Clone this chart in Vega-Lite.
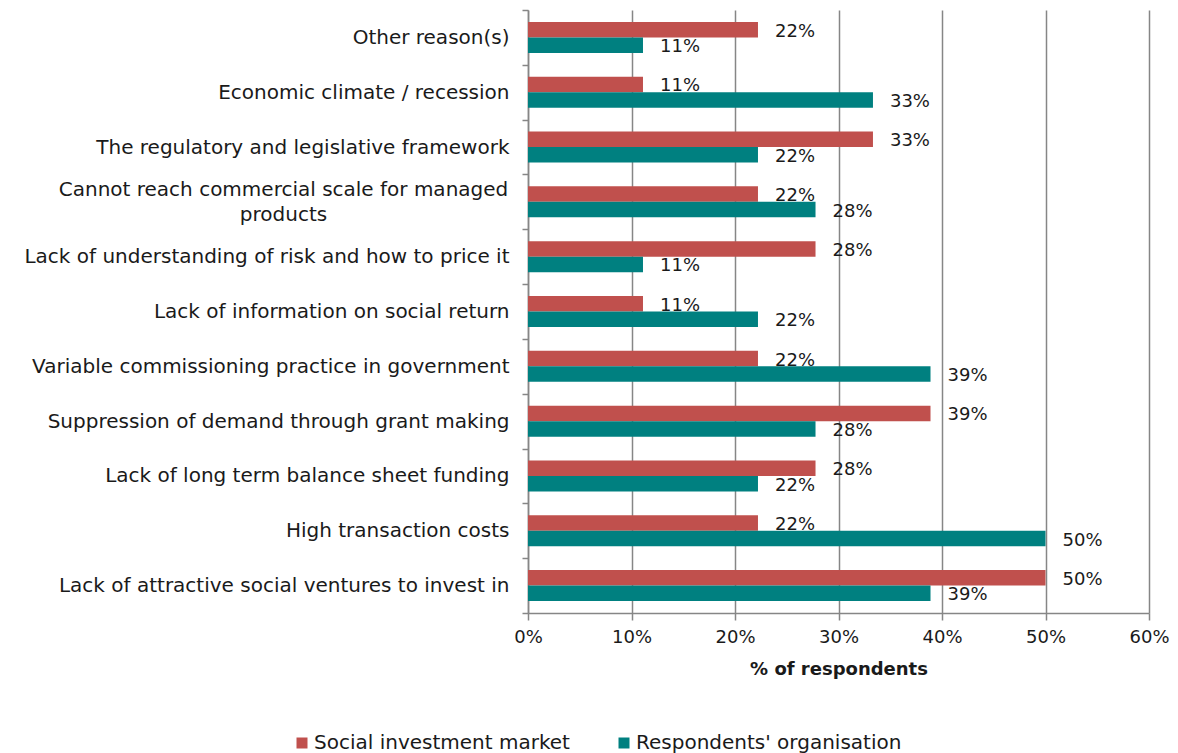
{
  "$schema": "https://vega.github.io/schema/vega-lite/v6.json",
  "autosize": "none",
  "width": 621,
  "height": 603,
  "padding": {"left": 528, "top": 10, "right": 29, "bottom": 140},
  "background": "white",
  "config": {
    "font": "DejaVu Sans",
    "view": {"stroke": null},
    "axis": {"labelFont": "DejaVu Sans", "titleFont": "DejaVu Sans"}
  },
  "data": {
    "values": [
      {"reason": "Other reason(s)", "series": "Social investment market", "value": 0.2222},
      {"reason": "Other reason(s)", "series": "Respondents' organisation", "value": 0.1111},
      {"reason": "Economic climate / recession", "series": "Social investment market", "value": 0.1111},
      {"reason": "Economic climate / recession", "series": "Respondents' organisation", "value": 0.3333},
      {"reason": "The regulatory and legislative framework", "series": "Social investment market", "value": 0.3333},
      {"reason": "The regulatory and legislative framework", "series": "Respondents' organisation", "value": 0.2222},
      {"reason": "Cannot reach commercial scale for managed products", "series": "Social investment market", "value": 0.2222},
      {"reason": "Cannot reach commercial scale for managed products", "series": "Respondents' organisation", "value": 0.2778},
      {"reason": "Lack of understanding of risk and how to price it", "series": "Social investment market", "value": 0.2778},
      {"reason": "Lack of understanding of risk and how to price it", "series": "Respondents' organisation", "value": 0.1111},
      {"reason": "Lack of information on social return", "series": "Social investment market", "value": 0.1111},
      {"reason": "Lack of information on social return", "series": "Respondents' organisation", "value": 0.2222},
      {"reason": "Variable commissioning practice in government", "series": "Social investment market", "value": 0.2222},
      {"reason": "Variable commissioning practice in government", "series": "Respondents' organisation", "value": 0.3889},
      {"reason": "Suppression of demand through grant making", "series": "Social investment market", "value": 0.3889},
      {"reason": "Suppression of demand through grant making", "series": "Respondents' organisation", "value": 0.2778},
      {"reason": "Lack of long term balance sheet funding", "series": "Social investment market", "value": 0.2778},
      {"reason": "Lack of long term balance sheet funding", "series": "Respondents' organisation", "value": 0.2222},
      {"reason": "High transaction costs", "series": "Social investment market", "value": 0.2222},
      {"reason": "High transaction costs", "series": "Respondents' organisation", "value": 0.5},
      {"reason": "Lack of attractive social ventures to invest in", "series": "Social investment market", "value": 0.5},
      {"reason": "Lack of attractive social ventures to invest in", "series": "Respondents' organisation", "value": 0.3889}
    ]
  },
  "encoding": {
    "y": {
      "field": "reason",
      "type": "nominal",
      "sort": null,
      "scale": {"paddingInner": 0, "paddingOuter": 0},
      "axis": {
        "title": null,
        "tickBand": "extent",
        "domainColor": "#868686",
        "domainWidth": 1.5,
        "tickColor": "#868686",
        "tickWidth": 1.5,
        "tickSize": 6,
        "labelFontSize": 20,
        "labelColor": "#1a1a1a",
        "labelPadding": {"condition": {"test": "datum.value == 'Cannot reach commercial scale for managed products'", "value": 239}, "value": 13},
        "labelAlign": {"condition": {"test": "datum.value == 'Cannot reach commercial scale for managed products'", "value": "center"}, "value": "right"},
        "labelOffset": {"condition": {"test": "datum.value == 'Cannot reach commercial scale for managed products'", "value": -12}, "value": 0},
        "labelLimit": 520,
        "labelLineHeight": 25,
        "labelExpr": "datum.label == 'Cannot reach commercial scale for managed products' ? ['Cannot reach commercial scale for managed', 'products'] : datum.label"
      }
    },
    "yOffset": {
      "field": "series",
      "type": "nominal",
      "sort": ["Social investment market", "Respondents' organisation"],
      "scale": {"paddingInner": 0, "paddingOuter": 0.768}
    },
    "x": {
      "field": "value",
      "type": "quantitative",
      "scale": {"domain": [0, 0.6], "nice": false},
      "axis": {
        "title": "% of respondents",
        "titleFontSize": 18,
        "titleFontWeight": "bold",
        "titleColor": "#1a1a1a",
        "titlePadding": 14,
        "format": ".0%",
        "values": [0, 0.1, 0.2, 0.3, 0.4, 0.5, 0.6],
        "labelFlush": false,
        "grid": true,
        "gridColor": "#868686",
        "gridWidth": 1.5,
        "domainColor": "#868686",
        "domainWidth": 1.5,
        "tickColor": "#868686",
        "tickWidth": 1.5,
        "tickSize": 7,
        "labelFontSize": 18,
        "labelColor": "#1a1a1a",
        "labelPadding": 8
      }
    }
  },
  "layer": [
    {
      "mark": {"type": "bar"},
      "encoding": {
        "color": {
          "field": "series",
          "type": "nominal",
          "sort": ["Social investment market", "Respondents' organisation"],
          "scale": {"domain": ["Social investment market", "Respondents' organisation"], "range": ["#C0504D", "#008080"]},
          "legend": {
            "title": null,
            "orient": "none",
            "direction": "horizontal",
            "legendX": -236,
            "legendY": 723,
            "symbolType": "square",
            "symbolSize": 121,
            "symbolStrokeWidth": 0,
            "labelFontSize": 20,
            "labelColor": "#1a1a1a",
            "labelOffset": 2,
            "columnPadding": 44,
            "labelLimit": 400
          }
        }
      }
    },
    {
      "mark": {"type": "text", "align": "left", "baseline": "middle", "dx": 17, "dy": 2, "fontSize": 18, "color": "#1a1a1a"},
      "encoding": {
        "text": {"field": "value", "type": "quantitative", "format": ".0%"}
      }
    }
  ]
}
